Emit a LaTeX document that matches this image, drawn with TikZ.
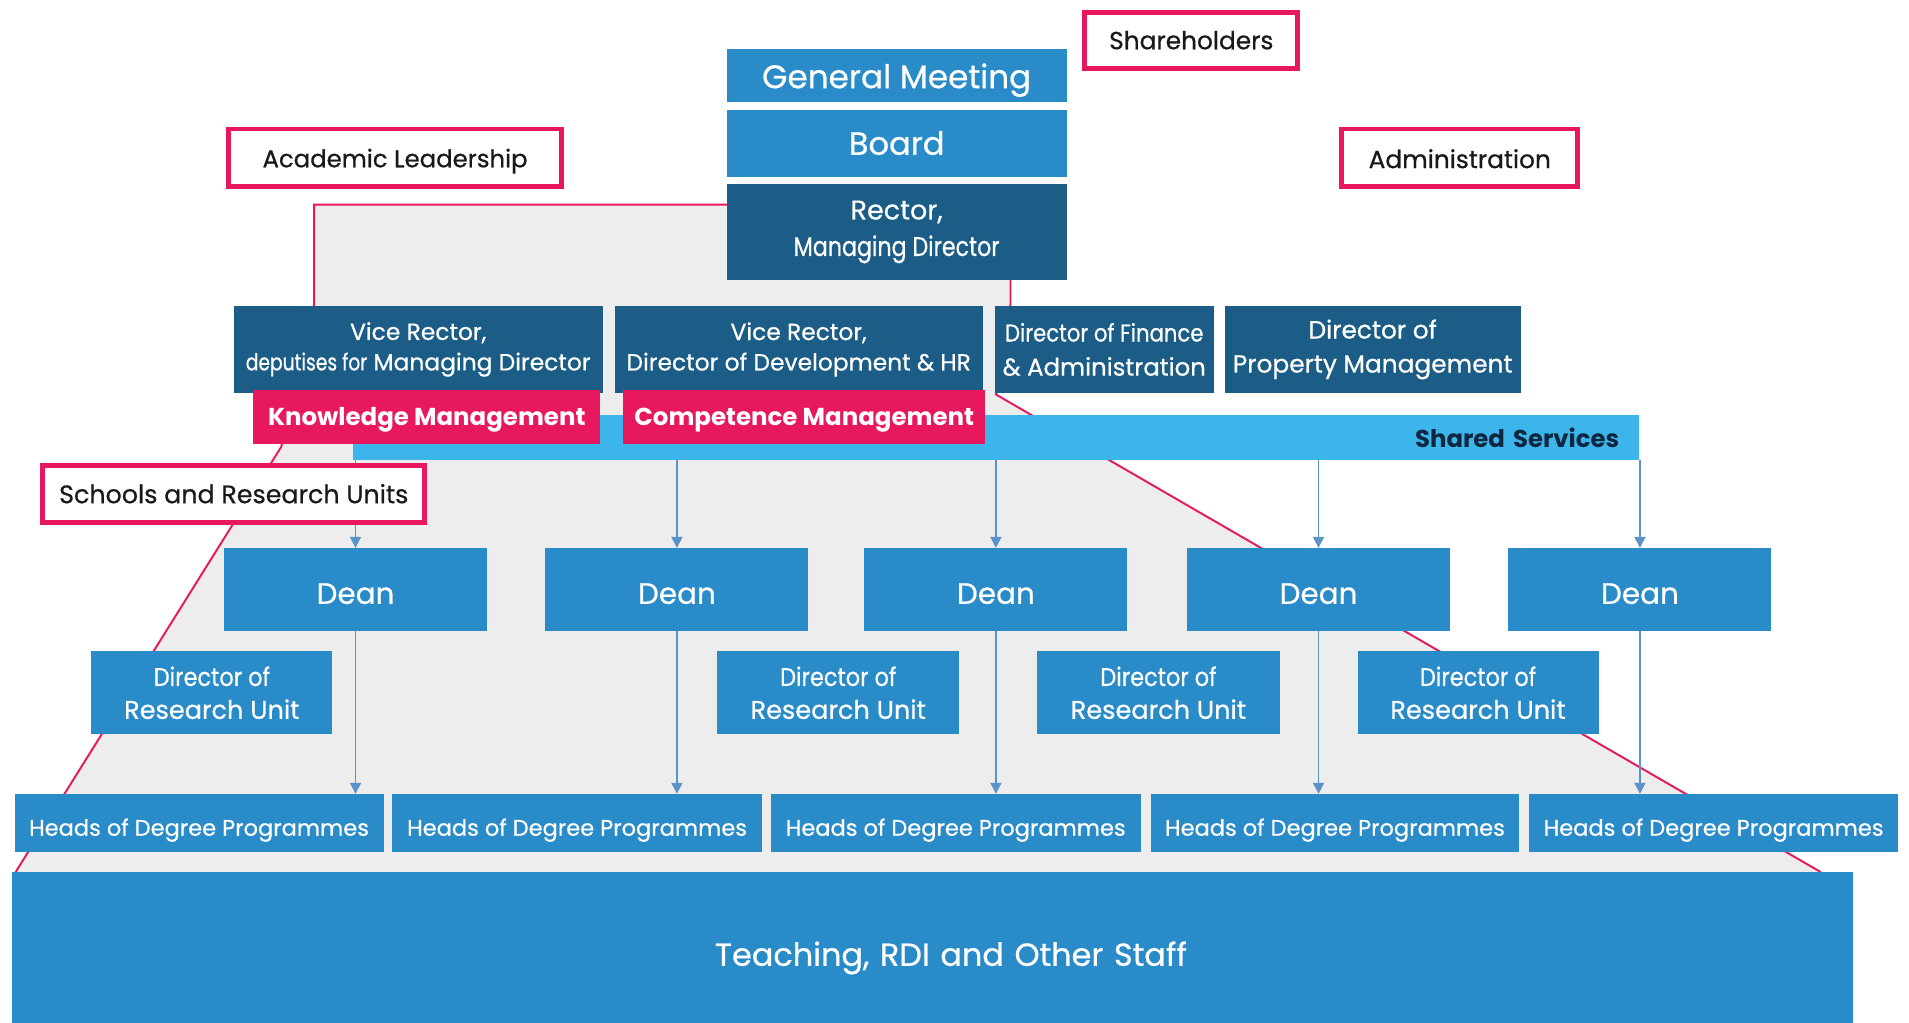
\documentclass[tikz,border=0pt]{standalone}
\usepackage{fontspec}
\setmainfont{Poppins}[UprightFeatures={FakeBold=0.6}]
\usetikzlibrary{arrows.meta}
\definecolor{medblue}{HTML}{2A8BC9}
\definecolor{darkblue}{HTML}{1C5D87}
\definecolor{hotpink}{HTML}{E8185E}
\definecolor{skyblue}{HTML}{3CB5EB}
\definecolor{bggray}{HTML}{EDEDED}
\definecolor{arrowblue}{HTML}{5A93C8}
\definecolor{navytext}{HTML}{0E2740}
\newcommand\bx[7]{\node[#6, minimum width={(#4-#2)*0.5pt}, minimum height={(#5-#3)*0.5pt}] (#1) at ({(#2+#4)/2},{(#3+#5)/2}) {#7};}
\newcommand\fs[2]{\fontsize{#1}{#2}\selectfont}
\newcommand\cond[2]{\scalebox{#1}[1]{#2}}
\begin{document}
\begin{tikzpicture}[x=0.5pt,y=-0.5pt,
  boxbase/.style={inner sep=0pt, outer sep=0pt, align=center},
  dn/.style={execute at begin node={\rule{0pt}{\dimexpr0.75em+#1\relax}}},
  mb/.style={boxbase, fill=medblue, text=white},
  db/.style={boxbase, fill=darkblue, text=white},
  pk/.style={boxbase, fill=hotpink, text=white, font=\bfseries\fontsize{10.05}{12}\selectfont, dn=2pt},
  lab/.style={boxbase, fill=white, draw=hotpink, line width=2pt, text=black!90, font=\fontsize{10.2}{12}\selectfont},
  arr/.style={draw=arrowblue, line width=0.75pt, -{Triangle[length=4.5pt,width=4.5pt]}},
  zone/.style={fill=bggray, draw=hotpink, line width=0.8pt}
]
\useasboundingbox (0,0) rectangle (1568,840);
% grey zone of the academic organisation
\filldraw[zone] (258,250) -- (258,168) -- (830,168) -- (830,250) -- (818,324) -- (1495,716) -- (1495,722) -- (13,722) -- (13,716) -- (231,367) -- cycle;
% shared services bar
\bx{ss}{290}{341}{1346}{378}{boxbase, fill=skyblue, text=navytext, font=\bfseries\fontsize{10}{12}\selectfont, text width=512pt, align=right, inner xsep=8pt, dn=1pt}{Shared Services}
% vice rector row
\bx{vr1}{192}{251}{495}{323}{db, font=\fs{9.6}{12.5}, dn=3pt}{Vice Rector,\\\cond{0.8}{deputises for} Managing Director}
\bx{vr2}{505}{251}{807}{323}{db, font=\fs{9.6}{12.5}, dn=3pt}{Vice Rector,\\Director of Development \& HR}
\bx{dfa}{817}{251}{997}{323}{db, font=\fs{10}{14}, dn=2pt}{\cond{0.87}{Director of Finance}\\\& Administration}
\bx{dpm}{1006}{251}{1249}{323}{db, font=\fs{10.2}{14}, dn=4pt}{Director of\\Property Management}
\bx{km}{208}{320}{493}{365}{pk}{Knowledge Management}
\bx{cm}{512}{320}{809}{365}{pk}{Competence Management}
% deans
\foreach \i/\a/\b in {1/184/400, 2/448/664, 3/710/926, 4/975/1191, 5/1239/1455}{
  \bx{d\i}{\a}{450}{\b}{518}{mb, font=\fs{12.1}{14}, dn=3pt}{Dean}
}
% directors of research units
\foreach \i/\a/\b in {1/75/273, 2/589/788, 3/852/1051, 4/1115/1313}{
  \bx{r\i}{\a}{535}{\b}{603}{mb, font=\fs{10.5}{13.5}, dn=1pt}{\cond{0.88}{Director of}\\Research Unit}
}
% heads of degree programmes
\foreach \i/\a/\b in {1/12/315, 2/322/626, 3/633/937, 4/945/1248, 5/1256/1559}{
  \bx{h\i}{\a}{652}{\b}{700}{mb, font=\fs{9.25}{12.5}, dn=6pt}{Heads of Degree Programmes}
}
% arrows
\foreach \i in {1,...,5}{
  \draw[arr] (ss.south -| d\i.north) -- (d\i.north);
  \draw[arr] (d\i.south) -- (d\i.south |- h\i.north);
}
% label boxes
\bx{sru}{35}{382}{349}{429}{lab, font=\fs{10.4}{12}}{Schools and Research Units}
\bx{acl}{188}{106}{461}{153}{lab, font=\fs{10}{12}, dn=3pt}{Academic Leadership}
\bx{adm}{1102}{106}{1296}{153}{lab, dn=1pt}{Administration}
\bx{shh}{891}{10}{1066}{56}{lab}{Shareholders}
% top governance
\bx{gm}{597}{40}{876}{84}{mb, font=\fs{13.4}{16}, dn=4pt}{General Meeting}
\bx{brd}{597}{90}{876}{145}{mb, font=\fs{13.2}{16}}{Board}
\bx{rec}{597}{151}{876}{230}{db, font=\fs{11.1}{15}, dn=3pt}{Rector,\\\cond{0.82}{Managing Director}}
% staff
\bx{stf}{10}{716}{1522}{840}{mb, font=\fs{13.1}{16}, dn=9pt, text width=748pt, align=center, inner xsep=4pt}{\hspace*{15pt}Teaching, RDI and Other Staff}
\end{tikzpicture}
\end{document}
